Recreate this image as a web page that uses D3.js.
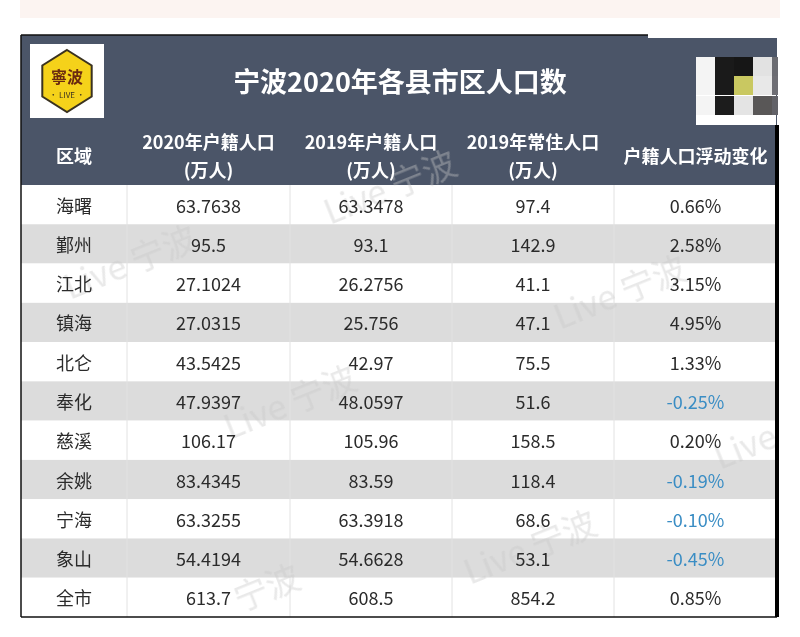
<!DOCTYPE html>
<html>
<head>
<meta charset="utf-8">
<script src="https://cdn.jsdelivr.net/npm/d3@7/dist/d3.min.js"></script>
<style>
html,body{margin:0;padding:0;background:#fff;}
svg{display:block;}
</style>
</head>
<body>
<svg id="chart" width="800" height="637"></svg>
<script>
const title = "宁波2020年各县市区人口数";
const headers = [["区域"], ["2020年户籍人口", "(万人)"], ["2019年户籍人口", "(万人)"], ["2019年常住人口", "(万人)"], ["户籍人口浮动变化"]];
const regions = ["海曙", "鄞州", "江北", "镇海", "北仑", "奉化", "慈溪", "余姚", "宁海", "象山", "全市"];
const pop2020 = ["63.7638", "95.5", "27.1024", "27.0315", "43.5425", "47.9397", "106.17", "83.4345", "63.3255", "54.4194", "613.7"];
const pop2019 = ["63.3478", "93.1", "26.2756", "25.756", "42.97", "48.0597", "105.96", "83.59", "63.3918", "54.6628", "608.5"];
const resident2019 = ["97.4", "142.9", "41.1", "47.1", "75.5", "51.6", "158.5", "118.4", "68.6", "53.1", "854.2"];
const change = ["0.66%", "2.58%", "3.15%", "4.95%", "1.33%", "-0.25%", "0.20%", "-0.19%", "-0.10%", "-0.45%", "0.85%"];

(function () {
const svg = d3.select("#chart");
const FONT = "'Noto Sans CJK SC','Noto Sans',sans-serif";
const tLeft = 21, tRight = 777, tTop = 35, titleBottom = 118, headBottom = 185, tBottom = 617;
const colEdges = [21, 127, 290, 452, 614, 777];
const headerColor = "#4b5568";

// top faint strip
svg.append("rect").attr("x", 20).attr("y", 0).attr("width", 760).attr("height", 18).attr("fill", "#fcf4f1");

const rowScale = d3.scaleBand().domain(d3.range(regions.length)).range([headBottom, tBottom]).padding(0);
const cols = [regions, pop2020, pop2019, resident2019, change];

// header background
svg.append("rect").attr("x", tLeft).attr("y", tTop).attr("width", tRight - tLeft).attr("height", headBottom - tTop).attr("fill", headerColor);

// rows
const rows = svg.append("g").selectAll("g").data(regions).join("g")
  .attr("transform", (d, i) => `translate(0,${rowScale(i)})`);
rows.append("rect").attr("x", tLeft).attr("width", tRight - tLeft).attr("height", rowScale.bandwidth())
  .attr("fill", (d, i) => i % 2 === 1 ? "#dcdcdc" : "#ffffff");

// vertical dividers
colEdges.slice(1, -1).forEach(x => {
  svg.append("line").attr("x1", x).attr("x2", x).attr("y1", headBottom).attr("y2", tBottom)
    .attr("stroke", "#e2e2e2").attr("stroke-width", 1);
});

// watermarks
const wm = svg.append("g").attr("fill", "#c8c8c8").attr("opacity", 0.4).attr("font-family", FONT).attr("font-size", 34);
[[70, 300, "Live 宁波"], [330, 225, "Live 宁波"], [560, 330, "Live 宁波"], [230, 440, "Live 宁波"], [470, 585, "Live 宁波"], [720, 470, "Live"], [240, 612, "宁波"]].forEach(([x, y, t]) => {
  wm.append("text").attr("x", x).attr("y", y).attr("transform", `rotate(-22,${x},${y})`).text(t);
});

// cell texts
cols.forEach((col, ci) => {
  const cx = (colEdges[ci] + colEdges[ci + 1]) / 2;
  svg.append("g").selectAll("text").data(col).join("text")
    .attr("x", cx).attr("y", (d, i) => rowScale(i) + rowScale.bandwidth() / 2)
    .attr("text-anchor", "middle").attr("dominant-baseline", "central")
    .attr("font-family", FONT).attr("font-size", 18)
    .attr("fill", d => (ci === 4 && d.startsWith("-")) ? "#3a8dc4" : "#2b2b2b")
    .text(d => d);
});

// header texts
headers.forEach((h, ci) => {
  const cx = (colEdges[ci] + colEdges[ci + 1]) / 2;
  const cy = (titleBottom + headBottom) / 2 + 3;
  const lh = 28;
  h.forEach((line, li) => {
    svg.append("text").attr("x", cx).attr("y", cy + (li - (h.length - 1) / 2) * lh)
      .attr("text-anchor", "middle").attr("dominant-baseline", "central")
      .attr("font-family", FONT).attr("font-weight", "bold").attr("font-size", 18)
      .attr("fill", "#ffffff").text(line);
  });
});

// title
svg.append("text").attr("x", 400).attr("y", 80).attr("text-anchor", "middle").attr("dominant-baseline", "central")
  .attr("font-family", FONT).attr("font-weight", "bold").attr("font-size", 27).attr("fill", "#ffffff").text(title);

// logo
const logo = svg.append("g");
logo.append("rect").attr("x", 30).attr("y", 44).attr("width", 74).attr("height", 74).attr("fill", "#ffffff");
const hcx = 67, hcy = 81, hr = 31;
const hex = d3.range(6).map(k => { const a = Math.PI / 3 * k - Math.PI / 2; return [hcx + hr * Math.cos(a) * 0.92, hcy + hr * Math.sin(a)]; });
logo.append("polygon").attr("points", hex.map(p => p.join(",")).join(" ")).attr("fill", "#f5d21a").attr("stroke", "#3a3220").attr("stroke-width", 2);
logo.append("text").attr("x", hcx).attr("y", 76).attr("text-anchor", "middle").attr("dominant-baseline", "central")
  .attr("font-family", "'Noto Sans CJK TC',serif").attr("font-weight", "bold").attr("font-size", 16).attr("fill", "#6a2a10").text("寧波");
logo.append("text").attr("x", hcx).attr("y", 94).attr("text-anchor", "middle").attr("dominant-baseline", "central")
  .attr("font-family", FONT).attr("font-size", 8).attr("fill", "#3a3220").text("• LIVE •");

// top-right overlay block
svg.append("rect").attr("x", 648).attr("y", 25).attr("width", 152).attr("height", 13).attr("fill", "#ffffff");
svg.append("rect").attr("x", 696).attr("y", 57).attr("width", 80).attr("height", 68).attr("fill", "#ffffff");
const px = [696, 715, 734, 753, 772];
const py = [57, 76, 96];
const grid = [["#f4f4f4", "#1a1a1a", "#161616", "#e2e2e2", "#6b6c72"],
              ["#f4f4f4", "#1a1a1a", "#c9c861", "#e8e8e8", "#6e6e74"],
              ["#f4f4f4", "#1c1c1c", "#e4e4e4", "#595757", "#626268"]];
grid.forEach((r, ri) => r.forEach((c, ci) => {
  svg.append("rect").attr("x", px[ci]).attr("y", py[ri]).attr("width", ci === 4 ? 6 : 19).attr("height", 19).attr("fill", c);
}));

// borders
svg.append("line").attr("x1", tLeft).attr("x2", 648).attr("y1", tTop).attr("y2", tTop).attr("stroke", "#111").attr("stroke-width", 1.5);
svg.append("line").attr("x1", tLeft).attr("x2", tLeft).attr("y1", tTop).attr("y2", tBottom).attr("stroke", "#111").attr("stroke-width", 1.5);
svg.append("line").attr("x1", tLeft).attr("x2", tRight).attr("y1", tBottom).attr("y2", tBottom).attr("stroke", "#111").attr("stroke-width", 1.5);
svg.append("line").attr("x1", 777).attr("x2", 777).attr("y1", 125).attr("y2", tBottom).attr("stroke", "#000").attr("stroke-width", 4);
})();
</script>
</body>
</html>
